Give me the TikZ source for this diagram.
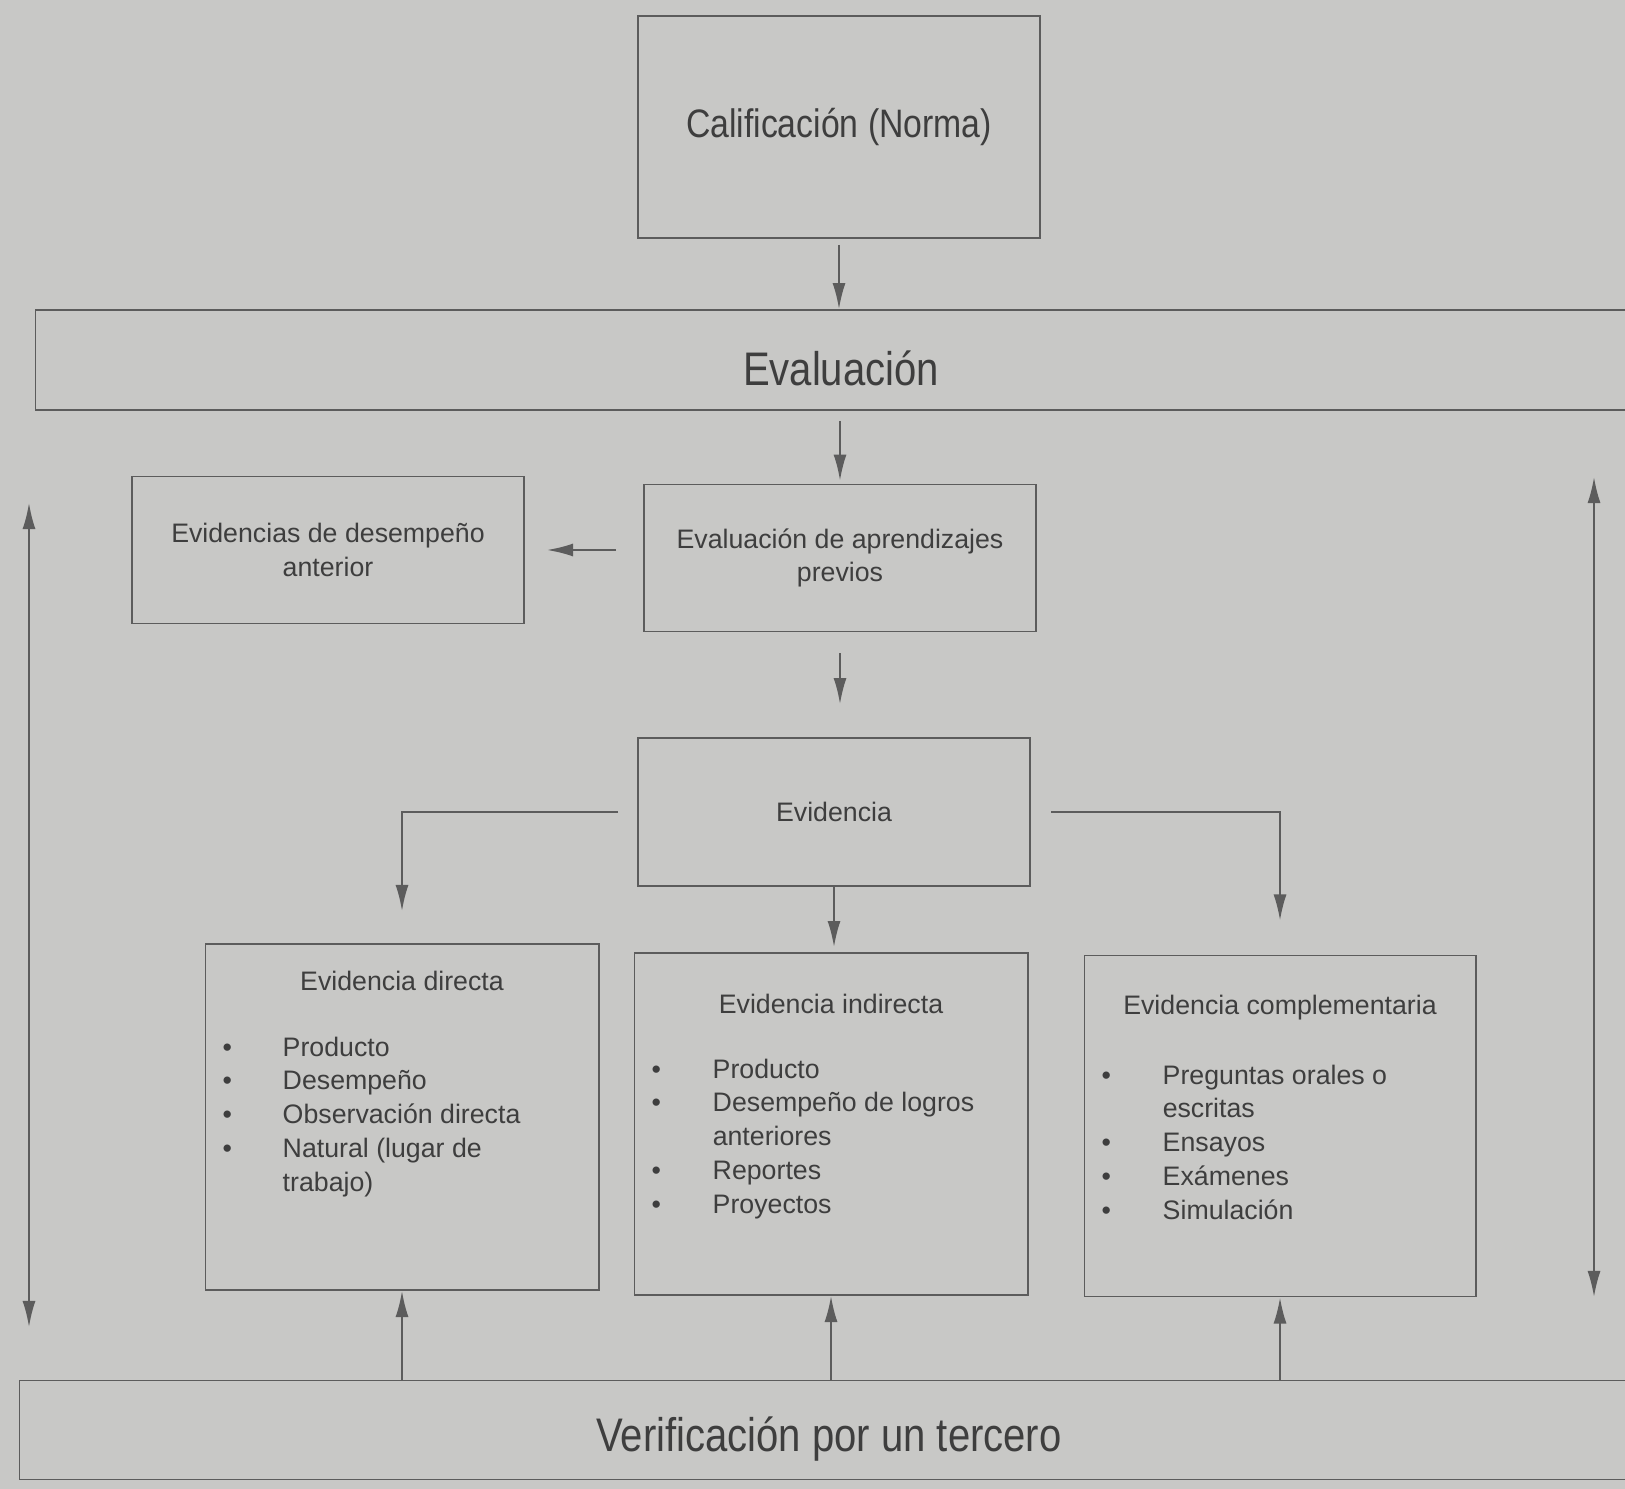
\documentclass[tikz,border=0pt]{standalone}
\usepackage{fontspec}
\setmainfont{Liberation Sans}
\newfontfamily\estrecha[FakeStretch=0.85]{Liberation Sans}
\usepackage{xcolor}
\usetikzlibrary{arrows.meta,positioning,calc}
\definecolor{fondo}{RGB}{200,200,198}
\definecolor{linea}{RGB}{92,92,92}
\definecolor{texto}{RGB}{62,62,62}

\begin{document}
\begin{tikzpicture}[x=0.01cm, y=-0.01cm]
  \tikzstyle{caja}=[rectangle, draw=linea, line width=0.5pt, inner sep=0pt]
  \tikzstyle{chica}=[font=\fontsize{7.6}{9.6}\selectfont, text=texto, align=center]
  \tikzstyle{grande}=[font=\estrecha\fontsize{13.4}{15}\selectfont, text=texto]
  \tikzstyle{lista}=[font=\fontsize{7.6}{9.6}\selectfont, text=texto, inner sep=0pt, anchor=base west]
  \tikzstyle{flecha}=[draw=linea, line width=0.55pt, -{Latex[length=2.6mm,width=1.3mm]}]
  \tikzstyle{doble}=[draw=linea, line width=0.55pt, {Latex[length=2.6mm,width=1.3mm]}-{Latex[length=2.6mm,width=1.3mm]}]

  \useasboundingbox (0,0) rectangle (1625,1489);
  \clip (0,0) rectangle (1625,1489);
  \fill[fondo] (0,0) rectangle (1625,1489);

  % Cajas principales
  \node[caja, minimum width=4.02cm, minimum height=2.22cm, font=\estrecha\fontsize{11.3}{13}\selectfont, text=texto] (cal) at (839,127) {Calificación (Norma)};
  \node[caja, minimum width=16.14cm, minimum height=1cm] (eval) at (843,360) {};
  \node[grande] (evalt) at (841,368) {Evaluación};
  \node[caja, chica, minimum width=3.92cm, minimum height=1.47cm] (prev) at (328,550) {Evidencias de desempeño\\anterior};
  \node[caja, chica, minimum width=3.92cm, minimum height=1.47cm] (apr) at (840,558) {Evaluación de aprendizajes\\previos};
  \node[caja, chica, minimum width=3.92cm, minimum height=1.48cm] (evid) at (834,812) {Evidencia};

  % Tipos de evidencia
  \node[caja, minimum width=3.93cm, minimum height=3.46cm] (dir) at (402,1117) {};
  \node[caja, minimum width=3.93cm, minimum height=3.42cm] (ind) at (831,1124) {};
  \node[caja, minimum width=3.91cm, minimum height=3.41cm] (comp) at (1280,1126) {};
  \node[chica] (dirt) at (402,981) {Evidencia directa};
  \node[chica] (indt) at (831,1004) {Evidencia indirecta};
  \node[chica] (compt) at (1280,1008) {Evidencia complementaria};
  \node[lista] (dirl) at (222,1056) {\begin{tabular}[t]{@{}p{0.6cm}@{}l@{}}
    \textbullet & Producto\\ \textbullet & Desempeño\\ \textbullet & Observación directa\\
    \textbullet & Natural (lugar de\\ & trabajo)\end{tabular}};
  \node[lista] (indl) at (651,1078) {\begin{tabular}[t]{@{}p{0.61cm}@{}l@{}}
    \textbullet & Producto\\ \textbullet & Desempeño de logros\\ & anteriores\\
    \textbullet & Reportes\\ \textbullet & Proyectos\end{tabular}};
  \node[lista] (compl) at (1101,1084) {\begin{tabular}[t]{@{}p{0.61cm}@{}l@{}}
    \textbullet & Preguntas orales o\\ & escritas\\ \textbullet & Ensayos\\
    \textbullet & Exámenes\\ \textbullet & Simulación\end{tabular}};

  \node[caja, minimum width=16.2cm, minimum height=0.99cm] (ver) at (830,1430) {};
  \node[grande] (vert) at (829,1439) {Verificación por un tercero};

  % Conexiones
  \draw[flecha, shorten <=0.06cm] (cal.south) -- (cal.south |- eval.north);
  \draw[flecha, shorten <=0.1cm, shorten >=0.03cm] (eval.south -| apr.north) -- (apr.north);
  \draw[flecha, shorten <=0.27cm, shorten >=0.22cm] (apr.west |- prev.east) -- (prev.east);
  \draw[flecha, shorten <=0.21cm, shorten >=0.33cm] (apr.south) -- (apr.south |- evid.north);
  \draw[flecha, shorten <=0.19cm, shorten >=0.32cm] (evid.west) -| (dir.north);
  \draw[flecha, shorten >=0.05cm] (evid.south) -- (evid.south |- ind.north);
  \draw[flecha, shorten <=0.2cm, shorten >=0.34cm] (evid.east) -| (comp.north);
  \foreach \b in {dir,ind,comp}
    \draw[flecha] (ver.north -| \b.south) -- (\b.south);

  % Flechas laterales
  \coordinate (izqa) at (29,503);
  \coordinate (izqb) at (29,1327);
  \coordinate (dera) at (1594,477);
  \coordinate (derb) at (1594,1297);
  \draw[doble] (izqa) -- (izqb);
  \draw[doble] (dera) -- (derb);
\end{tikzpicture}
\end{document}
